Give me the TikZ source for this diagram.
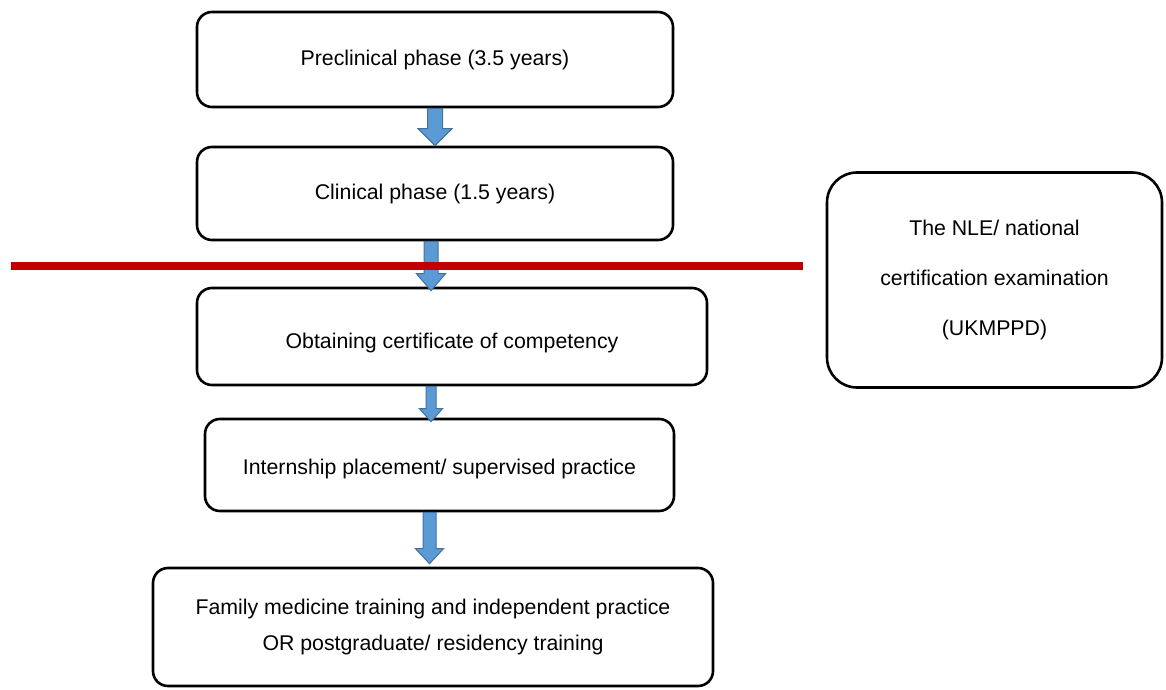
\documentclass[tikz,border=0pt]{standalone}
\usepackage{fontspec}
\setmainfont{Liberation Sans}
\usetikzlibrary{calc}
\definecolor{arrowfill}{HTML}{5B9BD5}
\definecolor{arrowline}{HTML}{41719C}
\definecolor{cutline}{HTML}{C00000}
\tikzset{
  stagebox/.style={draw=black, line width=2.6pt, rounded corners=15pt, fill=white,
    align=center, inner sep=0pt, font=\fontsize{21.3pt}{36pt}\selectfont},
  exambox/.style={stagebox, rounded corners=30pt, font=\fontsize{21.3pt}{50pt}\selectfont},
  flowarrow/.style={fill=arrowfill, draw=arrowline, line width=1pt, line join=miter},
  cut/.style={draw=cutline, line width=8pt}
}
% lower a label inside its box without changing the box
\newcommand\lowered[2]{\raisebox{-#1}[\height][\depth]{#2}}
% block arrow pointing down: source, target, x centre, shaft half width,
% head half width, head length, tip overshoot into the target
\newcommand\flowarrow[7]{%
  \filldraw[flowarrow] let \p1=(#1.south), \p2=(#2.north) in
    (#3-#4,\y1) -- (#3+#4,\y1) -- (#3+#4,\y2+#6-#7) -- (#3+#5,\y2+#6-#7)
    -- (#3,\y2-#7) -- (#3-#5,\y2+#6-#7) -- (#3-#4,\y2+#6-#7) -- cycle;}
\begin{document}
\begin{tikzpicture}[x=1pt,y=1pt]
\useasboundingbox (0,0) rectangle (1166,689);

\node[stagebox, minimum width=476pt, minimum height=95pt] (pre) at (435,629.5)
  {Preclinical phase (3.5 years)};
\node[stagebox, minimum width=476pt, minimum height=93pt] (cli) at (435,495.5)
  {Clinical phase (1.5 years)};
\node[stagebox, minimum width=510pt, minimum height=97pt] (cert) at (452,352.5)
  {\lowered{6pt}{Obtaining certificate of competency}};
\node[stagebox, minimum width=469pt, minimum height=92pt] (intern) at (439.5,224)
  {\lowered{4pt}{Internship placement/ supervised practice}};
\node[stagebox, minimum width=560pt, minimum height=118pt] (family) at (433,62)
  {Family medicine training and independent practice\\OR postgraduate/ residency training};
\node[exambox, minimum width=335pt, minimum height=215pt] (nle) at (994.5,409)
  {The NLE/ national\\certification examination\\(UKMPPD)};

\flowarrow{pre}{cli}{435}{7.5}{17}{17}{0}
\flowarrow{cli}{cert}{431}{7}{14.5}{17}{4}
\flowarrow{cert}{intern}{431}{5}{11.5}{13}{4}
\flowarrow{intern}{family}{429.5}{6.5}{14}{15}{-3}

% examination cut between the clinical phase and the certificate
\coordinate (cutL) at (11,423);
\coordinate (cutR) at (803,423);
\draw[cut] (cutL) -- (cutR);
\end{tikzpicture}
\end{document}
